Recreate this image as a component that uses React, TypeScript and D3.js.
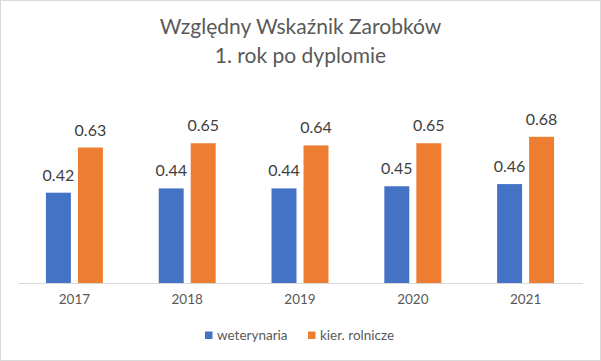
import React, { useEffect, useRef } from 'react';
import * as d3 from 'd3';

const years = ['2017', '2018', '2019', '2020', '2021'];
const seriesNames = ['weterynaria', 'kier. rolnicze'];
const weterynaria = [0.42, 0.44, 0.44, 0.45, 0.46];
const rolnicze = [0.63, 0.65, 0.64, 0.65, 0.68];
const colors = ['#4472C4', '#ED7D31'];
const titleLines = ['Względny Wskaźnik Zarobków', '1. rok po dyplomie'];

const W = 601;
const H = 361;
const FONT = 'Lato, Calibri, "Liberation Sans", sans-serif';

const App = () => {
  const ref = useRef<SVGSVGElement>(null);

  useEffect(() => {
    const svg = d3.select(ref.current);
    svg.selectAll('*').remove();

    // chart frame
    svg.append('rect')
      .attr('x', 0.5).attr('y', 0.5)
      .attr('width', W - 1).attr('height', H - 1)
      .attr('fill', '#fff').attr('stroke', '#d9d9d9');

    // title
    svg.append('g').selectAll('text')
      .data(titleLines)
      .enter().append('text')
      .attr('x', W / 2)
      .attr('y', (d, i) => 34 + i * 28.5)
      .attr('text-anchor', 'middle')
      .attr('font-family', FONT)
      .attr('font-size', 21)
      .attr('fill', '#595959')
      .text(d => d);

    const x0 = d3.scaleBand().domain(years).range([18, 582]);
    const bw = x0.bandwidth();
    const gw = bw * 0.505;
    const x1 = d3.scaleBand()
      .domain(seriesNames)
      .range([(bw - gw) / 2, (bw + gw) / 2])
      .paddingInner(0.22);
    const y = d3.scaleLinear().domain([0, 1]).range([283, 68]);

    const rows = years.map((yr, i) => ({ yr, vals: [weterynaria[i], rolnicze[i]] }));

    const groups = svg.append('g').selectAll('g')
      .data(rows)
      .enter().append('g')
      .attr('transform', d => `translate(${x0(d.yr)},0)`);

    groups.selectAll('rect')
      .data(d => d.vals.map((v, k) => ({ v, k })))
      .enter().append('rect')
      .attr('x', d => x1(seriesNames[d.k])!)
      .attr('y', d => y(d.v))
      .attr('width', x1.bandwidth())
      .attr('height', d => y(0) - y(d.v))
      .attr('fill', d => colors[d.k]);

    // data labels
    groups.selectAll('text')
      .data(d => d.vals.map((v, k) => ({ v, k })))
      .enter().append('text')
      .attr('x', d => x1(seriesNames[d.k])! + x1.bandwidth() / 2)
      .attr('y', d => y(d.v) - 12)
      .attr('text-anchor', 'middle')
      .attr('font-family', FONT)
      .attr('font-size', 16)
      .attr('fill', '#404040')
      .text(d => d3.format('.2f')(d.v));

    // x axis
    const axis = svg.append('g')
      .attr('transform', `translate(0,${y(0)})`)
      .call(d3.axisBottom(x0).tickSize(0).tickPadding(11));
    axis.select('.domain').attr('stroke', '#d9d9d9');
    axis.selectAll('.tick text')
      .attr('font-family', FONT)
      .attr('font-size', 13.5)
      .attr('fill', '#595959');

    // legend
    const legendX = [205, 308];
    const legend = svg.append('g').selectAll('g')
      .data(seriesNames)
      .enter().append('g')
      .attr('transform', (d, i) => `translate(${legendX[i]},335)`);
    legend.append('rect')
      .attr('x', 0).attr('y', -3.5)
      .attr('width', 7.5).attr('height', 7.5)
      .attr('fill', (d, i) => colors[i]);
    legend.append('text')
      .attr('x', 12).attr('y', 4.5)
      .attr('font-family', FONT)
      .attr('font-size', 13.5)
      .attr('fill', '#595959')
      .text(d => d);
  }, []);

  return (
    <svg ref={ref} width={W} height={H}
      style={{ position: 'absolute', left: 0, top: 0, display: 'block' }} />
  );
};

export default App;
